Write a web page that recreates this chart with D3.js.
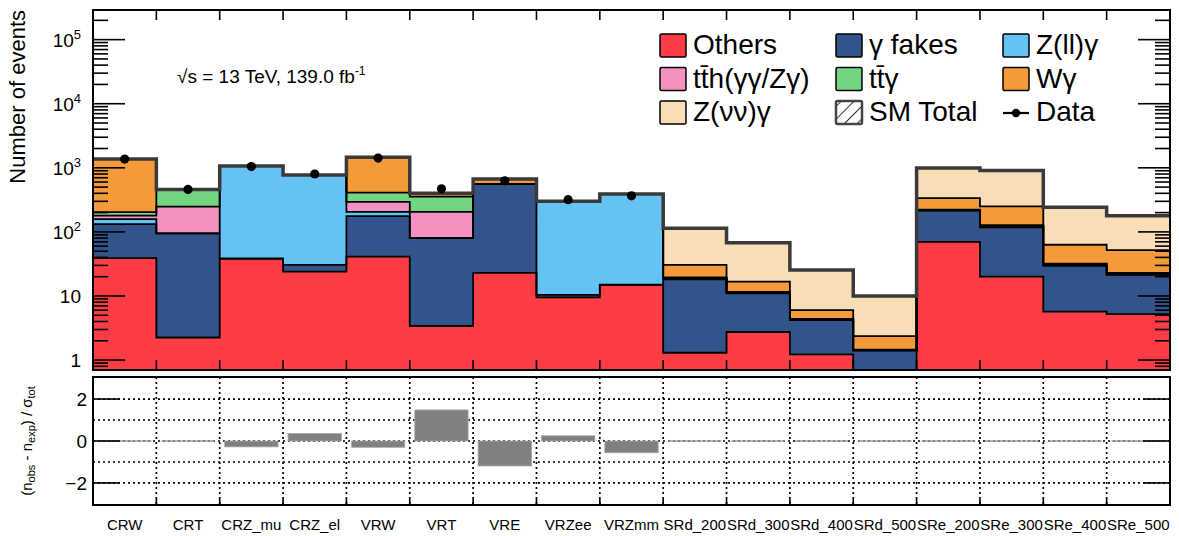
<!DOCTYPE html>
<html><head><meta charset="utf-8">
<script src="https://cdn.jsdelivr.net/npm/d3@7"></script>
<style>
html,body{margin:0;padding:0;background:#fff;}
text{font-family:"Liberation Sans",Arial,Helvetica,sans-serif;fill:#000;}
</style></head>
<body><svg id="c" width="1179" height="536"></svg>
<script>
// ---------------- data ----------------
const categories = ["CRW","CRT","CRZ_mu","CRZ_el","VRW","VRT","VRE","VRZee","VRZmm",
  "SRd_200","SRd_300","SRd_400","SRd_500","SRe_200","SRe_300","SRe_400","SRe_500"];
const others = [39, 2.25, 38, 24, 41, 3.4, 23, 9.5, 14.8, 1.3, 2.74, 1.23, 0.5, 70, 20, 5.7, 5.2];
const gammaFakes = [93, 92.75, 0.5, 6.5, 135, 76.6, 532, 0.9, 0.2, 16.9, 8.26, 2.97, 0.9, 145, 98, 23.7, 16.1];
const zllGamma = [26, 0, 1031.5, 739.5, 29, 0, 0, 289.6, 375, 0.4, 0.2, 0.06, 0.02, 2, 3, 0.8, 0.5];
const tthGamma = [22, 153, 0, 0, 90, 125, 0, 0, 0, 0.5, 0.2, 0.1, 0.02, 2, 3, 0.8, 0.6];
const ttGamma = [23, 212, 0, 0, 115, 150, 1, 0, 0, 0.4, 0.2, 0.04, 0.01, 3, 4, 1, 0.6];
const wGamma = [1167, 0, 0, 0, 1050, 45, 110, 0, 0, 11, 5.1, 1.6, 0.92, 114, 122, 31, 29];
const znnGamma = [0, 0, 0, 0, 0, 0, 0, 0, 0, 83.5, 51.3, 19.5, 7.63, 654, 660, 180, 126];
const dataObs = [1370, 460, 1045, 800, 1420, 470, 626, 318, 365, null, null, null, null, null, null, null, null];
const pull = [0, 0, -0.28, 0.36, -0.3, 1.48, -1.19, 0.25, -0.56, 0, 0, 0, 0, 0, 0, 0, 0];
const yMajorTicks = [1, 10, 100, 1000, 10000, 100000];
const yMajorExp = [null, null, 2, 3, 4, 5];
const pullTicks = [-2, 0, 2];
const pullTickLabels = ["\u22122", "0", "2"];
const pullGrid = [-2, -1, 0, 1, 2];

const series = [
  {key:"others", name:"Others", values:others, color:"#fd3c46"},
  {key:"fakes", name:"\u03B3 fakes", values:gammaFakes, color:"#33548a"},
  {key:"zll", name:"Z(ll)\u03B3", values:zllGamma, color:"#66c2f5"},
  {key:"tth", name:"tt\u0304h(\u03B3\u03B3/Z\u03B3)", values:tthGamma, color:"#f292c0"},
  {key:"ttg", name:"tt\u0304\u03B3", values:ttGamma, color:"#72d57f"},
  {key:"wg", name:"W\u03B3", values:wGamma, color:"#f59a3b"},
  {key:"znn", name:"Z(\u03BD\u03BD)\u03B3", values:znnGamma, color:"#f8ddb6"}
];

// ---------------- layout ----------------
const svg = d3.select("#c");
const L = 93, R = 1170, T = 10, B = 370, BT = 377, BB = 505;
const x = d3.scaleBand().domain(categories).range([L, R]).paddingInner(0).paddingOuter(0);
const y = d3.scaleLog().domain([0.7, 2.9e5]).range([B, T]).clamp(true);
const yp = d3.scaleLinear().domain([-3.05, 3.05]).range([BB, BT]);

const table = categories.map((c, i) => {
  const o = {cat: c};
  series.forEach(s => o[s.key] = s.values[i]);
  return o;
});
const stacked = d3.stack().keys(series.map(s => s.key))(table);

svg.append("defs").append("clipPath").attr("id","clipTop")
  .append("rect").attr("x",L).attr("y",T).attr("width",R-L).attr("height",B-T);
svg.select("defs").append("pattern").attr("id","hatch").attr("patternUnits","userSpaceOnUse")
  .attr("width",9).attr("height",9).attr("patternTransform","rotate(45)")
  .append("line").attr("x1",0).attr("y1",0).attr("x2",0).attr("y2",9)
  .attr("stroke","#333").attr("stroke-width",2);

const gTop = svg.append("g").attr("clip-path","url(#clipTop)");

function stepTop(vals) {
  let p = "";
  categories.forEach((c, i) => {
    const x0 = x(c), x1 = x0 + x.bandwidth(), yy = y(Math.max(vals[i], 1e-3));
    p += (i === 0 ? "M" : "L") + x0 + "," + yy + "L" + x1 + "," + yy;
  });
  return p;
}
function stepBottomReverse(vals) {
  let p = "";
  for (let i = categories.length - 1; i >= 0; i--) {
    const c = categories[i];
    const x0 = x(c), x1 = x0 + x.bandwidth(), yy = y(Math.max(vals[i], 1e-3));
    p += "L" + x1 + "," + yy + "L" + x0 + "," + yy;
  }
  return p + "Z";
}

// fills
stacked.forEach((layer, li) => {
  const upper = layer.map(d => d[1]);
  const lower = layer.map(d => li === 0 ? 1e-3 : d[0]);
  gTop.append("path").attr("d", stepTop(upper) + stepBottomReverse(lower))
    .attr("fill", series[li].color).attr("stroke","none");
});
// outlines
stacked.forEach((layer, li) => {
  const upper = layer.map(d => d[1]);
  gTop.append("path").attr("d", stepTop(upper)).attr("fill","none")
    .attr("stroke","#000").attr("stroke-width",1.8);
});
// total
const total = stacked[stacked.length-1].map(d => d[1]);
gTop.append("path").attr("d", stepTop(total)).attr("fill","none")
  .attr("stroke","#3a3a3a").attr("stroke-width",3.5);

// data points
categories.forEach((c, i) => {
  if (dataObs[i] == null) return;
  gTop.append("circle").attr("cx", x(c) + x.bandwidth()/2).attr("cy", y(dataObs[i]))
    .attr("r", 4.6).attr("fill","#000");
});

// ---------- top axes ----------
const axG = svg.append("g").attr("stroke","#000").attr("stroke-width",1.6);
const minorTicks = [];
for (let e = -1; e <= 5; e++) for (let m = 2; m <= 9; m++) {
  const v = m * Math.pow(10, e);
  if (v >= 0.7 && v <= 2.9e5) minorTicks.push(v);
}
minorTicks.forEach(v => {
  axG.append("line").attr("x1",L).attr("x2",L+15).attr("y1",y(v)).attr("y2",y(v));
  axG.append("line").attr("x1",R).attr("x2",R-15).attr("y1",y(v)).attr("y2",y(v));
});
yMajorTicks.forEach(v => {
  axG.append("line").attr("x1",L).attr("x2",L+32).attr("y1",y(v)).attr("y2",y(v));
  axG.append("line").attr("x1",R).attr("x2",R-32).attr("y1",y(v)).attr("y2",y(v));
});
const edges = categories.map(c => x(c)).concat([R]);
edges.slice(1, -1).forEach(ex => {
  axG.append("line").attr("x1",ex).attr("x2",ex).attr("y1",T).attr("y2",T+10);
  axG.append("line").attr("x1",ex).attr("x2",ex).attr("y1",B).attr("y2",B-10);
});
svg.append("rect").attr("x",L).attr("y",T).attr("width",R-L).attr("height",B-T)
  .attr("fill","none").attr("stroke","#000").attr("stroke-width",2);

yMajorTicks.forEach((v, i) => {
  const t = svg.append("text").attr("x",81).attr("y",y(v)+7).attr("text-anchor","end")
    .attr("font-size",19);
  if (yMajorExp[i] == null) t.text(String(v));
  else {
    t.append("tspan").text("10");
    t.append("tspan").attr("dy",-8).attr("font-size",13).text(String(yMajorExp[i]));
  }
});
svg.append("text").attr("transform","translate(25,10) rotate(-90)").attr("text-anchor","end")
  .attr("font-size",22).text("Number of events");

const ann = svg.append("text").attr("x",177).attr("y",83).attr("font-size",19);
ann.append("tspan").text("\u221As = 13 TeV, 139.0 fb");
ann.append("tspan").attr("dy",-8).attr("font-size",12).text("-1");

// ---------- legend ----------
const legCols = [660, 836, 1003];
const legRows = [34, 67.5, 101];
const legItems = [
  {s:series[0], c:0, r:0}, {s:series[1], c:1, r:0}, {s:series[2], c:2, r:0},
  {s:series[3], c:0, r:1}, {s:series[4], c:1, r:1}, {s:series[5], c:2, r:1},
  {s:series[6], c:0, r:2}
];
legItems.forEach(it => {
  const lx = legCols[it.c], ly = legRows[it.r];
  svg.append("rect").attr("x",lx).attr("y",ly).attr("width",26).attr("height",23)
    .attr("fill", it.s.color).attr("stroke","#000").attr("stroke-width",1.5).attr("rx",1.5);
  svg.append("text").attr("x",lx+33).attr("y",ly+20).attr("font-size",28).text(it.s.name);
});
svg.append("rect").attr("x",legCols[1]).attr("y",legRows[2]).attr("width",26).attr("height",23)
  .attr("fill","url(#hatch)").attr("stroke","#444").attr("stroke-width",2.5).attr("rx",1.5);
svg.append("text").attr("x",legCols[1]+33).attr("y",legRows[2]+20).attr("font-size",28).text("SM Total");
svg.append("line").attr("x1",legCols[2]).attr("x2",legCols[2]+26)
  .attr("y1",legRows[2]+12).attr("y2",legRows[2]+12).attr("stroke","#000").attr("stroke-width",2.2);
svg.append("circle").attr("cx",legCols[2]+13).attr("cy",legRows[2]+12).attr("r",4.2).attr("fill","#000");
svg.append("text").attr("x",legCols[2]+33).attr("y",legRows[2]+20).attr("font-size",28).text("Data");

// ---------- bottom panel ----------
const gB = svg.append("g");
pullGrid.forEach(v => {
  gB.append("line").attr("x1",L).attr("x2",R).attr("y1",yp(v)).attr("y2",yp(v))
    .attr("stroke","#000").attr("stroke-width",1.7).attr("stroke-dasharray","2,3");
});
edges.slice(1, -1).forEach(ex => {
  gB.append("line").attr("x1",ex).attr("x2",ex).attr("y1",BT).attr("y2",BB)
    .attr("stroke","#000").attr("stroke-width",1.7).attr("stroke-dasharray","2,3");
});
categories.forEach((c, i) => {
  const x0 = x(c) + 5, w = x.bandwidth() - 10, v = pull[i];
  if (v === 0) {
    gB.append("line").attr("x1",x0).attr("x2",x0+w).attr("y1",yp(0)).attr("y2",yp(0))
      .attr("stroke","#9a9a9a").attr("stroke-width",1.6);
  } else {
    gB.append("rect").attr("x",x0).attr("width",w)
      .attr("y",Math.min(yp(0),yp(v))).attr("height",Math.abs(yp(v)-yp(0)))
      .attr("fill","#808080").attr("stroke","#a8a8a8").attr("stroke-width",0.8);
  }
});
const axB = svg.append("g").attr("stroke","#000").attr("stroke-width",1.6);
pullTicks.forEach(v => {
  axB.append("line").attr("x1",L).attr("x2",L+27).attr("y1",yp(v)).attr("y2",yp(v));
  axB.append("line").attr("x1",R).attr("x2",R-27).attr("y1",yp(v)).attr("y2",yp(v));
});
edges.slice(1, -1).forEach(ex => {
  axB.append("line").attr("x1",ex).attr("x2",ex).attr("y1",BB).attr("y2",BB-6);
});
svg.append("rect").attr("x",L).attr("y",BT).attr("width",R-L).attr("height",BB-BT)
  .attr("fill","none").attr("stroke","#000").attr("stroke-width",2);
pullTicks.forEach((v, i) => {
  svg.append("text").attr("x",87).attr("y",yp(v)+7).attr("text-anchor","end")
    .attr("font-size",19).text(pullTickLabels[i]);
});
const bt = svg.append("text").attr("transform","translate(32,441) rotate(-90)")
  .attr("text-anchor","middle").attr("font-size",15);
bt.append("tspan").text("(n");
bt.append("tspan").attr("font-size",11).attr("dy",3).text("obs");
bt.append("tspan").attr("dy",-3).text(" - n");
bt.append("tspan").attr("font-size",11).attr("dy",3).text("exp");
bt.append("tspan").attr("dy",-3).text(") / \u03C3");
bt.append("tspan").attr("font-size",11).attr("dy",3).text("tot");

categories.forEach(c => {
  svg.append("text").attr("x", x(c) + x.bandwidth()/2).attr("y",530)
    .attr("text-anchor","middle").attr("font-size",15).text(c);
});
</script></body></html>
